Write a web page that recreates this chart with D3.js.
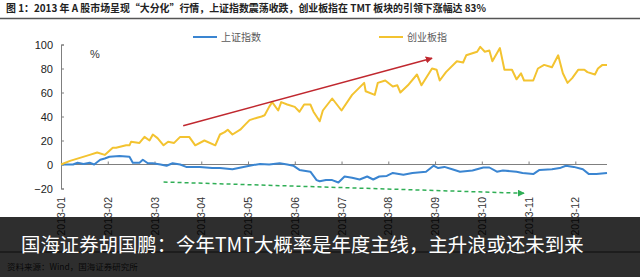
<!DOCTYPE html>
<html><head><meta charset="utf-8">
<script src="https://cdn.jsdelivr.net/npm/d3@7"></script>
<style>
html,body{margin:0;padding:0;background:#fff;}
svg{display:block;}
</style></head>
<body>
<svg id="c" width="640" height="277"></svg>
<script>
// ---- data ----
const titleText = "图 1：2013 年 A 股市场呈现“大分化”行情，上证指数震荡收跌，创业板指在 TMT 板块的引领下涨幅达 83%";
const overlayText = "国海证券胡国鹏：今年TMT大概率是年度主线，主升浪或还未到来";
const sourceText = "资料来源：Wind，国海证券研究所";
const seriesNames = ["上证指数", "创业板指"];
const monthLabels = ["2013-01","2013-02","2013-03","2013-04","2013-05","2013-06","2013-07","2013-08","2013-09","2013-10","2013-11","2013-12"];
const yTicks = [-20, 0, 20, 40, 60, 80, 100];

const cyDates = ["2013-01-01","2013-01-07","2013-01-20","2013-01-25","2013-01-30","2013-02-04","2013-02-06","2013-02-12","2013-02-14","2013-02-15","2013-02-20","2013-02-23","2013-02-26","2013-02-28","2013-03-03","2013-03-07","2013-03-10","2013-03-14","2013-03-18","2013-03-24","2013-03-28","2013-04-03","2013-04-10","2013-04-13","2013-04-16","2013-04-18","2013-04-21","2013-04-26","2013-04-29","2013-05-02","2013-05-07","2013-05-10","2013-05-12","2013-05-15","2013-05-17","2013-05-21","2013-05-23","2013-05-27","2013-06-01","2013-06-04","2013-06-07","2013-06-11","2013-06-13","2013-06-15","2013-06-17","2013-06-19","2013-06-25","2013-07-01","2013-07-08","2013-07-16","2013-07-17","2013-07-23","2013-07-25","2013-07-30","2013-08-04","2013-08-07","2013-08-09","2013-08-14","2013-08-20","2013-08-23","2013-08-30","2013-09-02","2013-09-04","2013-09-08","2013-09-15","2013-09-19","2013-09-21","2013-09-28","2013-09-30","2013-10-03","2013-10-06","2013-10-08","2013-10-13","2013-10-16","2013-10-21","2013-10-24","2013-10-27","2013-10-29","2013-11-04","2013-11-07","2013-11-11","2013-11-16","2013-11-20","2013-11-23","2013-11-26","2013-11-29","2013-12-03","2013-12-07","2013-12-09","2013-12-14","2013-12-16","2013-12-19","2013-12-22"];
const cyValues = [0,3,8,10,8,14,14,16,16,19,18,23,20,25,22,16,19,18,23,23,16,20,16,25,27,29,25,29,33,37,39,40,41,48,52,45,52,50,48,44,50,50,44,40,36,45,55,45,58,68,61,58,68,70,65,66,60,66,75,66,80,79,70,77,86,85,91,94,98,94,95,86,97,79,79,71,76,70,70,80,83,81,91,76,68,72,79,79,77,75,80,83,83];

const shDates = ["2013-01-01","2013-01-09","2013-01-12","2013-01-16","2013-01-20","2013-01-23","2013-01-27","2013-01-30","2013-02-02","2013-02-08","2013-02-14","2013-02-16","2013-02-20","2013-02-22","2013-02-25","2013-02-28","2013-03-05","2013-03-09","2013-03-13","2013-03-18","2013-03-22","2013-03-31","2013-04-08","2013-04-13","2013-04-21","2013-05-02","2013-05-09","2013-05-15","2013-05-22","2013-05-27","2013-05-31","2013-06-04","2013-06-11","2013-06-15","2013-06-17","2013-06-21","2013-06-25","2013-06-29","2013-07-03","2013-07-08","2013-07-13","2013-07-18","2013-07-22","2013-07-26","2013-07-31","2013-08-04","2013-08-11","2013-08-17","2013-08-26","2013-08-31","2013-09-03","2013-09-07","2013-09-12","2013-09-17","2013-09-25","2013-10-02","2013-10-06","2013-10-11","2013-10-15","2013-10-24","2013-10-28","2013-11-04","2013-11-08","2013-11-16","2013-11-21","2013-11-25","2013-11-30","2013-12-06","2013-12-10","2013-12-15","2013-12-22"];
const shValues = [0,0,1.5,0.5,1.5,0,4,5,6.5,7,6.5,1.5,1.5,4,1,1,0,-1,1,0,-2,-2,-3,-3,-4,-1,0.5,0,1,0,-1,-4.5,-6,-13,-14,-13,-13,-15,-10,-11,-12.5,-10,-12.5,-10,-9.5,-7,-8.5,-7,-6,-1,-3,-2,-4,-6,-5,-2.5,-2.5,-6,-5,-6,-7,-8,-4.5,-4,-3,-1,-2,-4,-8,-8,-7];

// annotation arrows (date, value)
const upArrow = [["2013-03-20", 32.3], ["2013-08-30", 88.5]];
const downArrow = [["2013-03-07", -14.6], ["2013-10-29", -24]];

// ---- helpers ----
const parse = d3.timeParse("%Y-%m-%d");
function monthPos(s){
  const d = parse(s);
  const dim = new Date(d.getFullYear(), d.getMonth()+1, 0).getDate();
  return d.getMonth() + (d.getDate()-1)/dim;
}
const lastPos = monthPos(cyDates[cyDates.length-1]);

const svg = d3.select("#c");
const x = d3.scaleLinear().domain([0, lastPos]).range([61, 607]);
const y = d3.scaleLinear().domain([-20, 100]).range([188.5, 44.5]);

const CJK = "'Noto Sans CJK SC','Noto Sans',sans-serif";
const LAT = "'Liberation Sans',Arial,sans-serif";

// title
svg.append("text").attr("x", 6).attr("y", 12)
  .attr("font-family", CJK).attr("font-weight", "bold").attr("font-size", 10.5)
  .attr("fill", "#222").attr("textLength", 480).attr("lengthAdjust", "spacingAndGlyphs")
  .text(titleText);
svg.append("line").attr("x1", 0).attr("x2", 640).attr("y1", 18.5).attr("y2", 18.5)
  .attr("stroke", "#555").attr("stroke-width", 1.6);

// y axis
const yAxis = d3.axisLeft(y).tickValues(yTicks).tickSize(-3).tickPadding(8).tickFormat(d3.format("d"));
const gy = svg.append("g").attr("transform", "translate(61,0)").call(yAxis);
gy.select(".domain").attr("stroke", "#7f7f7f");
gy.selectAll(".tick line").attr("stroke", "#7f7f7f");
gy.selectAll(".tick text").attr("font-family", LAT).attr("font-size", 11).attr("fill", "#222");

// x axis (at zero)
const xAxis = d3.axisBottom(x).tickValues(d3.range(monthLabels.length)).tickSize(-3).tickFormat("");
const gx = svg.append("g").attr("transform", `translate(0,${y(0)})`).call(xAxis);
gx.select(".domain").attr("stroke", "#7f7f7f").attr("d", `M${x(0)},0H${x(lastPos)}`);
gx.selectAll(".tick line").attr("stroke", "#7f7f7f");

// x labels (rotated)
svg.append("g").selectAll("text").data(monthLabels).join("text")
  .attr("transform", (d,i) => `translate(${x(i)+4},197) rotate(-90)`)
  .attr("text-anchor", "end")
  .attr("font-family", LAT).attr("font-size", 10.5).attr("fill", "#333")
  .text(d => d);

// % label
svg.append("text").attr("x", 90).attr("y", 58).attr("font-family", LAT).attr("font-size", 11).attr("fill", "#333").text("%");

// lines
const line = d3.line().x(d => x(monthPos(d[0]))).y(d => y(d[1]));
const shData = shDates.map((d,i) => [d, shValues[i]]);
const cyData = cyDates.map((d,i) => [d, cyValues[i]]);
svg.append("path").datum(shData).attr("d", line).attr("fill", "none")
  .attr("stroke", "#3a85d1").attr("stroke-width", 2).attr("stroke-linejoin", "round");
svg.append("path").datum(cyData).attr("d", line).attr("fill", "none")
  .attr("stroke", "#f3c330").attr("stroke-width", 2).attr("stroke-linejoin", "round");

// legend
const legend = [{name: seriesNames[0], color: "#3a85d1", x: 193}, {name: seriesNames[1], color: "#f3c330", x: 379}];
legend.forEach(l => {
  svg.append("line").attr("x1", l.x).attr("x2", l.x+24).attr("y1", 37).attr("y2", 37)
    .attr("stroke", l.color).attr("stroke-width", 2);
  svg.append("text").attr("x", l.x+28).attr("y", 41).attr("font-family", CJK)
    .attr("font-size", 10).attr("fill", "#595959").text(l.name);
});

// arrows
const defs = svg.append("defs");
function marker(id, color){
  defs.append("marker").attr("id", id).attr("viewBox", "0 0 10 10").attr("refX", 9).attr("refY", 5)
    .attr("markerWidth", 7).attr("markerHeight", 7).attr("orient", "auto-start-reverse")
    .attr("markerUnits", "userSpaceOnUse")
    .append("path").attr("d", "M0,0L10,5L0,10z").attr("fill", color);
}
marker("ar", "#c0282f");
marker("ag", "#2fae55");
svg.append("line")
  .attr("x1", x(monthPos(upArrow[0][0]))).attr("y1", y(upArrow[0][1]))
  .attr("x2", x(monthPos(upArrow[1][0]))).attr("y2", y(upArrow[1][1]))
  .attr("stroke", "#c0282f").attr("stroke-width", 1.5).attr("marker-end", "url(#ar)");
svg.append("line")
  .attr("x1", x(monthPos(downArrow[0][0]))).attr("y1", y(downArrow[0][1]))
  .attr("x2", x(monthPos(downArrow[1][0]))).attr("y2", y(downArrow[1][1]))
  .attr("stroke", "#2fae55").attr("stroke-width", 1.5).attr("stroke-dasharray", "4,3").attr("marker-end", "url(#ag)");

// source
svg.append("line").attr("x1", 0).attr("x2", 640).attr("y1", 252).attr("y2", 252).attr("stroke", "#444").attr("stroke-width", 1);
svg.append("text").attr("x", 7).attr("y", 270).attr("font-family", CJK).attr("font-size", 8.5).attr("fill", "#333").text(sourceText);

// overlay band
svg.append("rect").attr("x", 0).attr("y", 217).attr("width", 640).attr("height", 60).attr("fill", "rgba(0,0,0,0.82)");
svg.append("text").attr("x", 21).attr("y", 252).attr("font-family", CJK).attr("font-size", 19.4)
  .attr("fill", "#fff").text(overlayText);
</script>
</body></html>
